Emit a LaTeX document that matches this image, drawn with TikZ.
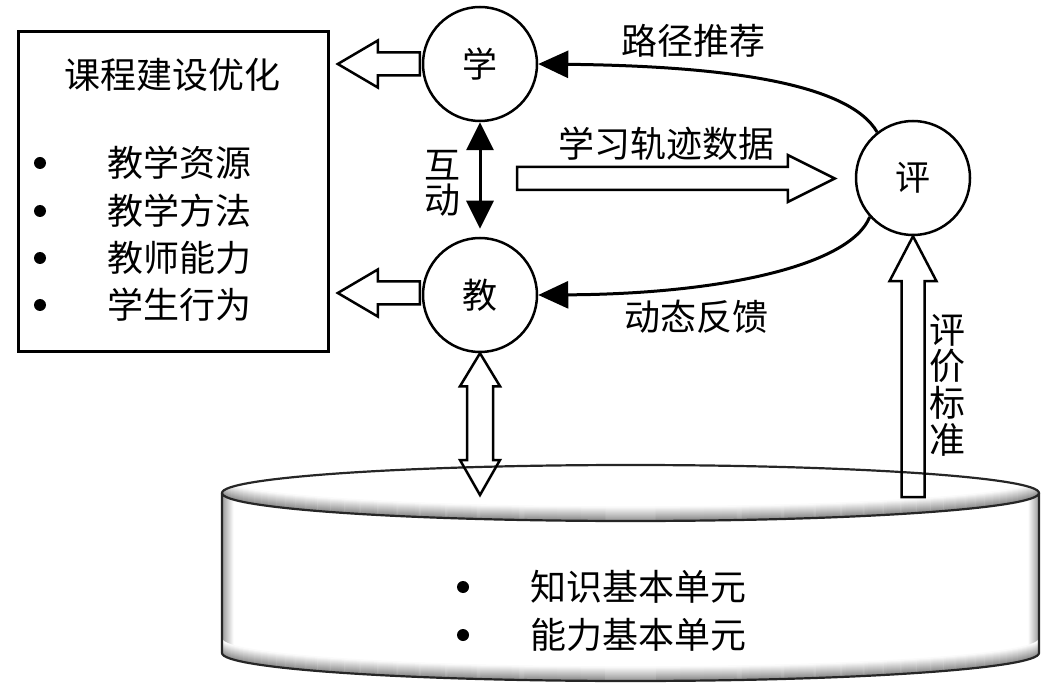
\documentclass[tikz,border=0pt]{standalone}
\usepackage{fontspec}
\newfontfamily\cjk{Noto Sans CJK SC}
\usetikzlibrary{arrows.meta,calc}
\pgfdeclarehorizontalshading{cylside}{100bp}{color(0bp)=(black!40); color(25bp)=(black!40); color(25.7bp)=(white); color(74.3bp)=(white); color(75bp)=(black!40); color(100bp)=(black!40)}
\tikzset{
  txt/.style={font=\cjk\fontsize{36}{36}\selectfont, inner sep=0pt},
  circ/.style={circle, draw, line width=2.5pt, minimum size=114pt, inner sep=0pt, font=\cjk\fontsize{35}{35}\selectfont},
  bullet/.style={circle, fill=black, inner sep=0pt, minimum size=12pt},
  hollowarrow/.style={draw=black, line width=2.5pt, line join=miter},
  blackdouble/.style={line width=3pt, {Triangle[length=28pt,width=27pt]}-{Triangle[length=28pt,width=27pt]}},
  curvearrow/.style={line width=3pt, -{Triangle[length=30pt,width=27pt]}},
  cyledge/.style={line width=2.2pt, draw=black!85},
}
% tail, tip, shaft half width, head half width, head length
\newcommand\blockarrow[5]{%
  \draw[hollowarrow] let \p1=#1, \p2=#2, \n1={atan2(\y2-\y1,\x2-\x1)}, \n2={veclen(\x2-\x1,\y2-\y1)} in
    [shift={(\p1)}, rotate=\n1]
    (0,#3) -- ({\n2-#5},#3) -- ({\n2-#5},#4) -- (\n2,0) -- ({\n2-#5},-#4) -- ({\n2-#5},-#3) -- (0,-#3) -- cycle;}
% tail, tip, shaft half width, head half width, head length at tail, head length at tip
\newcommand\blockdouble[6]{%
  \draw[hollowarrow] let \p1=#1, \p2=#2, \n1={atan2(\y2-\y1,\x2-\x1)}, \n2={veclen(\x2-\x1,\y2-\y1)} in
    [shift={(\p1)}, rotate=\n1]
    (0,0) -- (#5,#4) -- (#5,#3) -- ({\n2-#6},#3) -- ({\n2-#6},#4) -- (\n2,0) -- ({\n2-#6},-#4) -- ({\n2-#6},-#3) -- (#5,-#3) -- (#5,-#4) -- cycle;}
\begin{document}
\begin{tikzpicture}[x=1pt,y=-1pt]
\useasboundingbox (0,0) rectangle (1049,692);

% ---------- cylinder ----------
\def\cylbody{(222,493) -- (222,653) arc[start angle=180,end angle=0,x radius=408.5,y radius=28] -- (1039,493) arc[start angle=0,end angle=180,x radius=408.5,y radius=28] -- cycle}
\shade[shading=cylside] \cylbody;
\begin{scope}
  \clip \cylbody;
  \foreach \i in {0,...,14} {
    \pgfmathsetmacro\g{48-3.3*\i}
    \draw[black!\g, line width=1.4pt] (222,653-\i) arc[start angle=180,end angle=0,x radius=408.5,y radius=28];
  }
\end{scope}
\fill[white] (630.5,493) ellipse[x radius=408.5, y radius=28];
\begin{scope}
  \clip (630.5,493) ellipse[x radius=408.5, y radius=28];
  \foreach \i in {0,...,14} {
    \pgfmathsetmacro\g{48-3.3*\i}
    \draw[black!\g, line width=1.4pt] (222,493-\i) arc[start angle=180,end angle=0,x radius=408.5,y radius=28];
  }
\end{scope}
\draw[cyledge] (630.5,493) ellipse[x radius=408.5, y radius=28];
\draw[cyledge] (222,493) -- (222,653) arc[start angle=180,end angle=0,x radius=408.5,y radius=28] -- (1039,493);

\node[bullet] (cb1) at (463,587) {};
\node[bullet] (cb2) at (463,635) {};
\node[txt, anchor=west] (zhishi) at (530,587) {知识基本单元};
\node[txt, anchor=west] (nengli) at (530,635) {能力基本单元};

% ---------- left box ----------
\node[draw, line width=2.8pt, minimum width=310pt, minimum height=320pt, anchor=north west, inner sep=0pt] (box) at (17,30) {};
\node[txt] (boxtitle) at (172,75) {课程建设优化};
\node[bullet] (b1) at (40,163) {};
\node[bullet] (b2) at (40,211) {};
\node[bullet] (b3) at (40,258) {};
\node[bullet] (b4) at (40,305) {};
\node[txt, anchor=west] (i1) at (107,163) {教学资源};
\node[txt, anchor=west] (i2) at (107,211) {教学方法};
\node[txt, anchor=west] (i3) at (107,258) {教师能力};
\node[txt, anchor=west] (i4) at (107,305) {学生行为};

% ---------- circles ----------
\node[circ] (xue) at (480,64) {学};
\node[circ] (jiao) at (480,295) {教};
\node[circ] (ping) at (913,178) {评};

% ---------- connectors ----------
\blockarrow{($(xue.west)+(-2,0)$)}{($(xue.west -| box.east)+(8,0)$)}{11.5}{23.5}{40}
\blockarrow{($(jiao.west)+(-2,-2)$)}{($(jiao.west -| box.east)+(8,-2)$)}{11.5}{23.5}{40}

\draw[blackdouble] (xue.south) -- ($(jiao.north)+(0,-8)$);
\node[txt, align=center, font=\cjk\fontsize{36}{35}\selectfont] (hudong) at (442,183) {互\\动};

\coordinate (trackstart) at (517,178.5);
\blockarrow{(trackstart)}{($(ping.west)+(-20,0.5)$)}{11.5}{23.5}{47}
\node[txt] (guiji) at (666,144) {学习轨迹数据};

\draw[curvearrow] (ping.128) .. controls (848,82) and (720,66) .. (xue.east);
\node[txt] (lujing) at (693,41) {路径推荐};
\draw[curvearrow] (ping.222) .. controls (850,266) and (720,294) .. (jiao.east);
\node[txt] (dongtai) at (696,317) {动态反馈};

\coordinate (dbbot) at (480,495);
\blockdouble{(jiao.south)}{(dbbot)}{13}{20}{33}{35}

\coordinate (pjbot) at (913,497);
\blockarrow{(pjbot)}{(ping.south)}{11.5}{23.5}{45}
\node[txt, align=center, font=\cjk\fontsize{36}{36.7}\selectfont] (pjbz) at (947,385) {评\\价\\标\\准};
\end{tikzpicture}
\end{document}
